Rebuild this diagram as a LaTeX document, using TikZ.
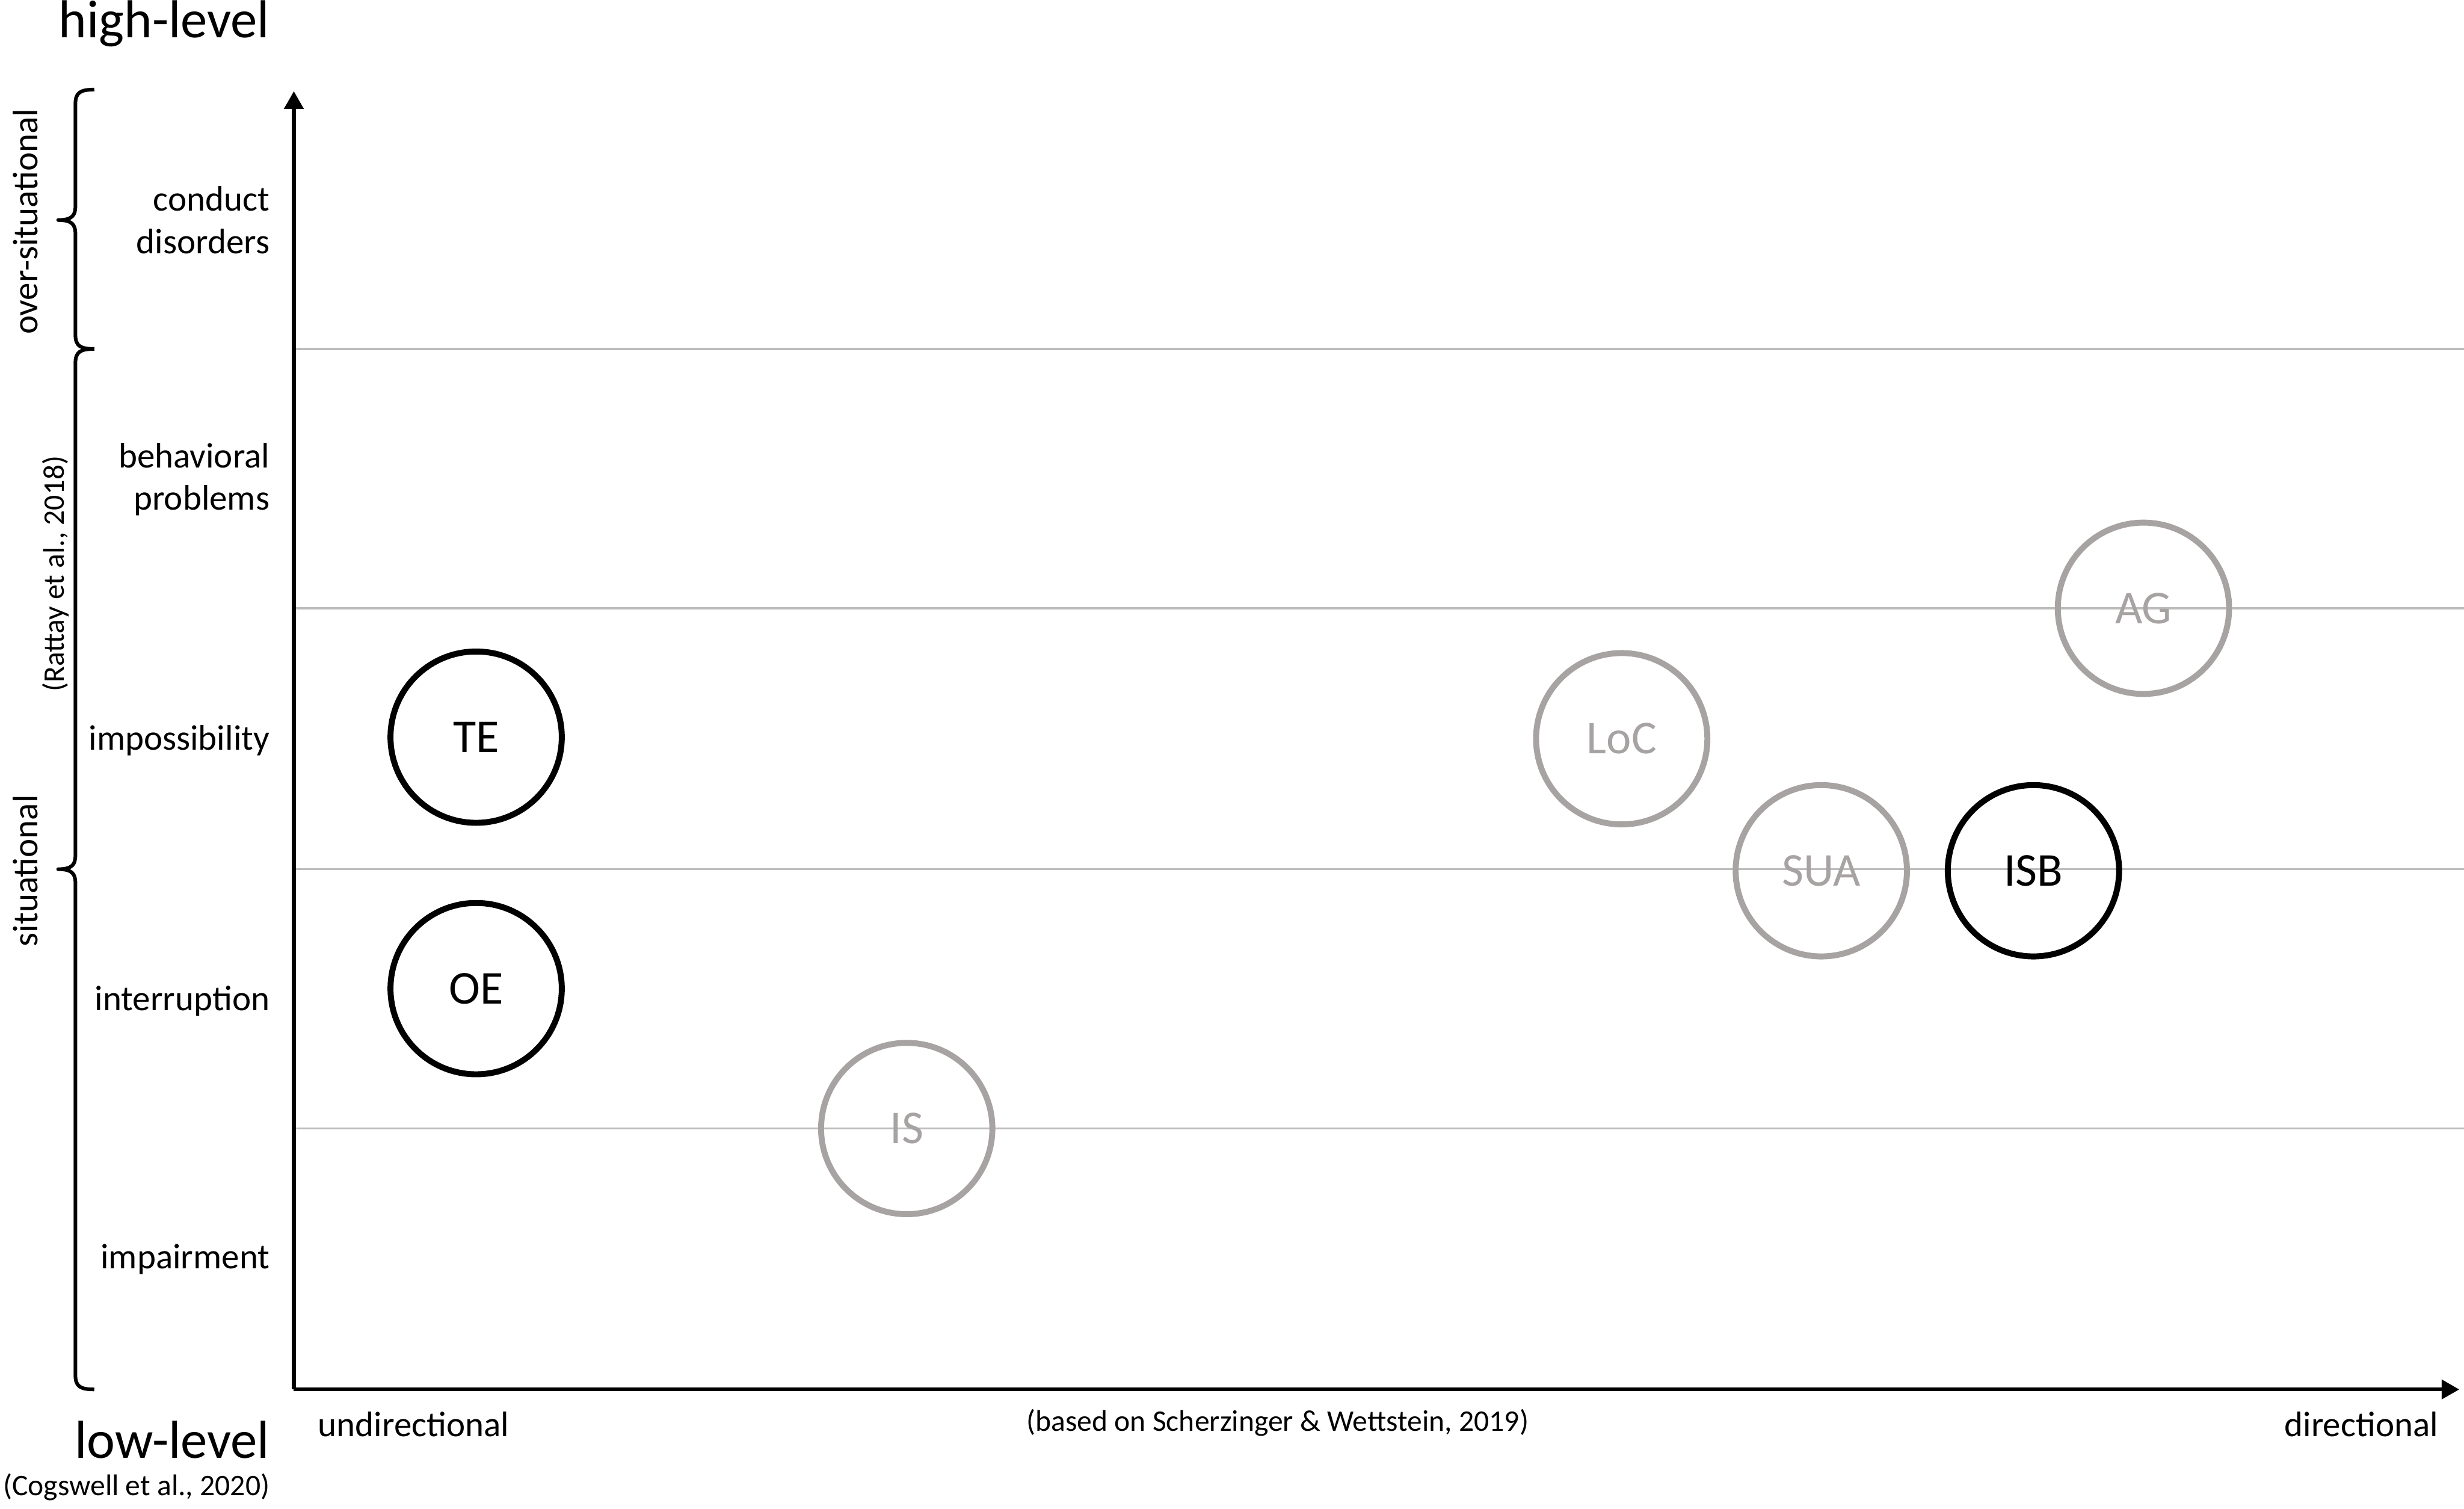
\documentclass[tikz,border=0pt]{standalone}
\usepackage{fontspec}
\setmainfont{Carlito}
\usetikzlibrary{arrows.meta}
\definecolor{circgray}{RGB}{168,163,163}
\definecolor{gridgray}{RGB}{188,188,188}
\tikzset{
  axisline/.style={line width=1.2pt, -{Triangle[length=5.6pt,width=6pt]}},
  gridline/.style={draw=gridgray, line width=0.6pt},
  bracestyle/.style={line width=1.15pt, line join=round},
  lbl/.style={inner sep=0pt, font=\fontsize{11.3}{13.5}\selectfont, align=right},
  biglbl/.style={inner sep=0pt, font=\fontsize{17}{20}\selectfont},
  citelbl/.style={inner sep=0pt, font=\fontsize{9.5}{11}\selectfont},
  blackcirc/.style={circle, draw=black, line width=1.9pt, minimum size=54.5pt, inner sep=0pt, font=\fontsize{15}{18}\selectfont},
  graycirc/.style={circle, draw=circgray, text=circgray, line width=1.9pt, minimum size=54.5pt, inner sep=0pt, font=\fontsize{15}{18}\selectfont}
}
\begin{document}
\begin{tikzpicture}[x=0.5pt,y=-0.5pt]
\useasboundingbox (0,0) rectangle (1568,960);
% axis coordinates
\coordinate (O) at (187,884);
\coordinate (ytip) at (187,58);
\coordinate (xtip) at (1565,884);
% grid lines
\coordinate (g1l) at (187,222); \coordinate (g1r) at (1568,222);
\coordinate (g2l) at (187,387); \coordinate (g2r) at (1568,387);
\coordinate (g3l) at (187,553); \coordinate (g3r) at (1568,553);
\coordinate (g4l) at (187,718); \coordinate (g4r) at (1568,718);
\draw[gridline] (g1l) -- (g1r);
\draw[gridline] (g2l) -- (g2r);
\draw[gridline] (g3l) -- (g3r);
\draw[gridline] (g4l) -- (g4r);
% axes
\draw[axisline] (O) -- (ytip);
\draw[axisline] (O) -- (xtip);
% braces
\draw[bracestyle] (60,57) .. controls (51,57) and (48,59) .. (48,66) -- (48,131)
  .. controls (48,137) and (46,140) .. (37,140)
  .. controls (46,140) and (48,143) .. (48,149) -- (48,213)
  .. controls (48,220) and (51,222) .. (60,222);
\draw[bracestyle] (60,222) .. controls (51,222) and (48,224) .. (48,231) -- (48,544)
  .. controls (48,550) and (46,553) .. (37,553)
  .. controls (46,553) and (48,556) .. (48,562) -- (48,875)
  .. controls (48,882) and (51,884) .. (60,884);
% brace labels
\node[lbl, rotate=90] (oversit) at (16,141) {over-situational};
\node[lbl, rotate=90] (sit) at (16,554) {situational};
\node[citelbl, rotate=90] (rattay) at (35.5,365) {(Rattay et al., 2018)};
% level labels
\node[lbl, anchor=east] (conduct) at (172,140) {conduct\\disorders};
\node[lbl, anchor=east] (behav) at (172,305) {behavioral\\problems};
\node[lbl, anchor=east] (imposs) at (172,471) {impossibility};
\node[lbl, anchor=east] (interr) at (172,637) {interruption};
\node[lbl, anchor=east] (impair) at (172,801) {impairment};
\node[biglbl, anchor=east] (high) at (172,15) {high-level};
\node[biglbl, anchor=east] (low) at (172,916) {low-level};
\node[citelbl, anchor=east] (cogs) at (172,946) {(Cogswell et al., 2020)};
% x labels
\node[lbl, anchor=west] (undir) at (202,906) {undirectional};
\node[citelbl] (scherz) at (813,905) {(based on Scherzinger \& Wettstein, 2019)};
\node[lbl, anchor=east] (dir) at (1552,906) {directional};
% circles
\node[blackcirc] (TE) at (303,469) {TE};
\node[blackcirc] (OE) at (303,629) {OE};
\node[graycirc] (IS) at (577,718) {IS};
\node[graycirc] (LoC) at (1032,470) {LoC};
\node[graycirc] (SUA) at (1159,554) {SUA};
\node[blackcirc] (ISB) at (1294,554) {ISB};
\node[graycirc] (AG) at (1364,387) {AG};
\end{tikzpicture}
\end{document}
